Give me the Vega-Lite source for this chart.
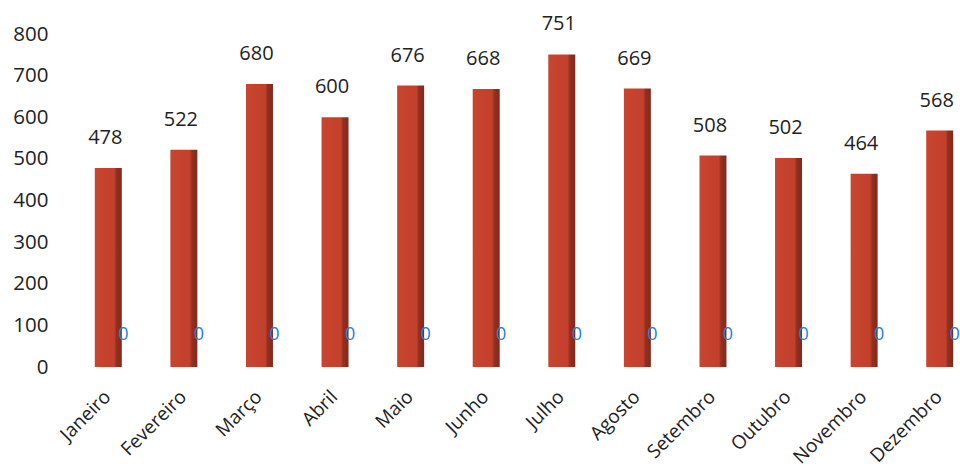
{
  "$schema": "https://vega.github.io/schema/vega-lite/v6.json",
  "width": 872,
  "height": 333,
  "autosize": "none",
  "padding": {"left": 88, "top": 34, "right": 0, "bottom": 102},
  "background": "white",
  "config": {"view": {"stroke": null}, "font": "Open Sans"},
  "data": {"values": [
    {"mes": "Janeiro", "valor": 478, "serie2": 0},
    {"mes": "Fevereiro", "valor": 522, "serie2": 0},
    {"mes": "Março", "valor": 680, "serie2": 0},
    {"mes": "Abril", "valor": 600, "serie2": 0},
    {"mes": "Maio", "valor": 676, "serie2": 0},
    {"mes": "Junho", "valor": 668, "serie2": 0},
    {"mes": "Julho", "valor": 751, "serie2": 0},
    {"mes": "Agosto", "valor": 669, "serie2": 0},
    {"mes": "Setembro", "valor": 508, "serie2": 0},
    {"mes": "Outubro", "valor": 502, "serie2": 0},
    {"mes": "Novembro", "valor": 464, "serie2": 0},
    {"mes": "Dezembro", "valor": 568, "serie2": 0}
  ]},
  "encoding": {
    "x": {
      "field": "mes", "type": "nominal", "sort": null,
      "scale": {"paddingInner": 0.643, "paddingOuter": 0.09},
      "axis": {"title": null, "labelAngle": -45, "labelFontSize": 19, "labelColor": "#222222", "labelPadding": 20, "labelOffset": -7, "domain": false, "ticks": false}
    }
  },
  "layer": [
    {
      "mark": {"type": "bar", "color": {"gradient": "linear", "x1": 0, "y1": 0, "x2": 1, "y2": 0, "stops": [
        {"offset": 0, "color": "#c8452f"},
        {"offset": 0.72, "color": "#c2402c"},
        {"offset": 0.8, "color": "#93301f"},
        {"offset": 1, "color": "#7e2a1e"}
      ]}},
      "encoding": {
        "y": {"field": "valor", "type": "quantitative", "scale": {"domain": [0, 800]},
          "axis": {"title": null, "values": [0, 100, 200, 300, 400, 500, 600, 700, 800], "grid": false, "domain": false, "ticks": false, "labelFontSize": 20.5, "labelColor": "#222222", "labelPadding": 40}}
      }
    },
    {
      "mark": {"type": "text", "fontSize": 20, "color": "#222222", "baseline": "middle", "dy": -30, "dx": -3},
      "encoding": {
        "y": {"field": "valor", "type": "quantitative"},
        "text": {"field": "valor", "type": "quantitative"}
      }
    },
    {
      "mark": {"type": "text", "fontSize": 18, "color": "#1f7fd4", "baseline": "middle", "dy": -32, "dx": 15},
      "encoding": {
        "y": {"field": "serie2", "type": "quantitative"},
        "text": {"field": "serie2", "type": "quantitative"}
      }
    }
  ]
}
